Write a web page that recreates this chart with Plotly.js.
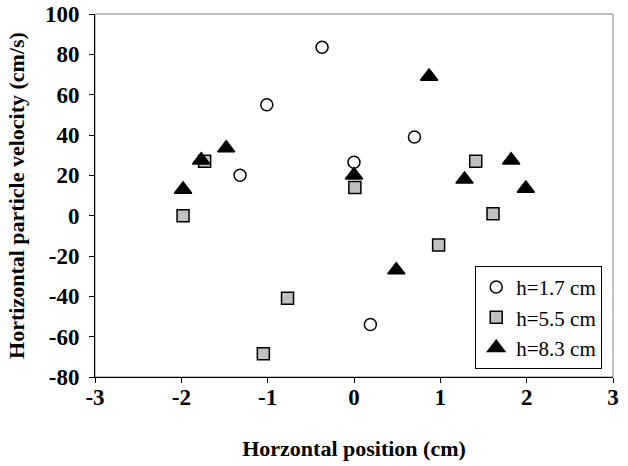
<!DOCTYPE html>
<html><head><meta charset="utf-8">
<script src="https://cdn.plot.ly/plotly-3.0.1.min.js"></script>
<style>html,body{margin:0;padding:0;background:#fff}#chart{width:628px;height:466px}</style>
</head><body><div id="chart"></div>
<script>
// h = 1.7 cm
const x17 = [-1.32, -1.01, -0.37, 0.0, 0.70, 0.19];
const y17 = [20, 55, 83.5, 26.5, 39, -54];
// h = 5.5 cm
const x55 = [-1.98, -1.73, 0.01, 1.41, 1.61, 0.98, -0.77, -1.05];
const y55 = [0, 27, 14, 27, 1, -14.5, -41, -68.5];
// h = 8.3 cm
const x83 = [-1.98, -1.77, -1.48, 0.0, 0.87, 1.28, 1.82, 1.99, 0.49];
const y83 = [13, 27.5, 33.5, 20, 69, 18, 27.5, 13.5, -27];
const names = ['h=1.7 cm', 'h=5.5 cm', 'h=8.3 cm'];
const xTicks = [-3, -2, -1, 0, 1, 2, 3];
const yTicks = [-80, -60, -40, -20, 0, 20, 40, 60, 80, 100];
const xTitle = 'Horzontal position (cm)';
const yTitle = 'Hortizontal particle velocity (cm/s)';

const serif = 'Liberation Serif, Times New Roman, serif';
const traces = [
  {x: x17, y: y17, name: names[0], legendgroup: 'a', type: 'scatter', mode: 'markers',
   marker: {symbol: 'circle', size: 12, color: '#ffffff', line: {color: '#000', width: 1.5}}},
  {x: x55, y: y55, name: names[1], legendgroup: 'b', type: 'scatter', mode: 'markers',
   marker: {symbol: 'square', size: 12, color: '#c0c0c0', line: {color: '#000', width: 1.5}}},
  {x: x83, y: y83, name: names[2], legendgroup: 'c', type: 'scatter', mode: 'markers',
   marker: {symbol: 'triangle-up', size: 15, color: '#000', line: {color: '#000', width: 1.5}}}
];
const bold = v => '<b>' + v + '</b>';
const axisCommon = {
  showgrid: false, zeroline: false, showline: true, linecolor: '#000', linewidth: 1,
  ticks: 'outside', ticklen: 5, tickcolor: '#000', tickwidth: 1,
  tickfont: {family: serif, size: 23, color: '#000'}
};
const layout = {
  width: 628, height: 466,
  margin: {l: 95, r: 15, t: 14, b: 89},
  paper_bgcolor: '#fff', plot_bgcolor: '#fff',
  showlegend: true,
  xaxis: Object.assign({}, axisCommon, {
    range: [-3, 3], tickvals: xTicks, ticktext: xTicks.map(bold), ticklabelstandoff: -6,
    title: {text: bold(xTitle), font: {family: serif, size: 22, color: '#000'}, standoff: 32}
  }),
  yaxis: Object.assign({}, axisCommon, {
    range: [-80, 100], tickvals: yTicks, ticktext: yTicks.map(bold), ticklabelstandoff: 5,
    title: {text: bold(yTitle), font: {family: serif, size: 22, color: '#000'}, standoff: 14}
  }),
  legend: {
    x: 0.734, y: 0.306, xanchor: 'left', yanchor: 'top',
    bgcolor: '#fff', bordercolor: '#000', borderwidth: 1,
    font: {family: serif, size: 21, color: '#000'},
    traceorder: 'grouped', tracegroupgap: 0
  },
  shapes: [{type: 'rect', xref: 'paper', yref: 'paper', x0: 0, x1: 1, y0: 0, y1: 1,
            line: {color: '#808080', width: 1}, layer: 'below'}]
};
Plotly.newPlot('chart', traces, layout, {staticPlot: true, displayModeBar: false});
</script></body></html>
